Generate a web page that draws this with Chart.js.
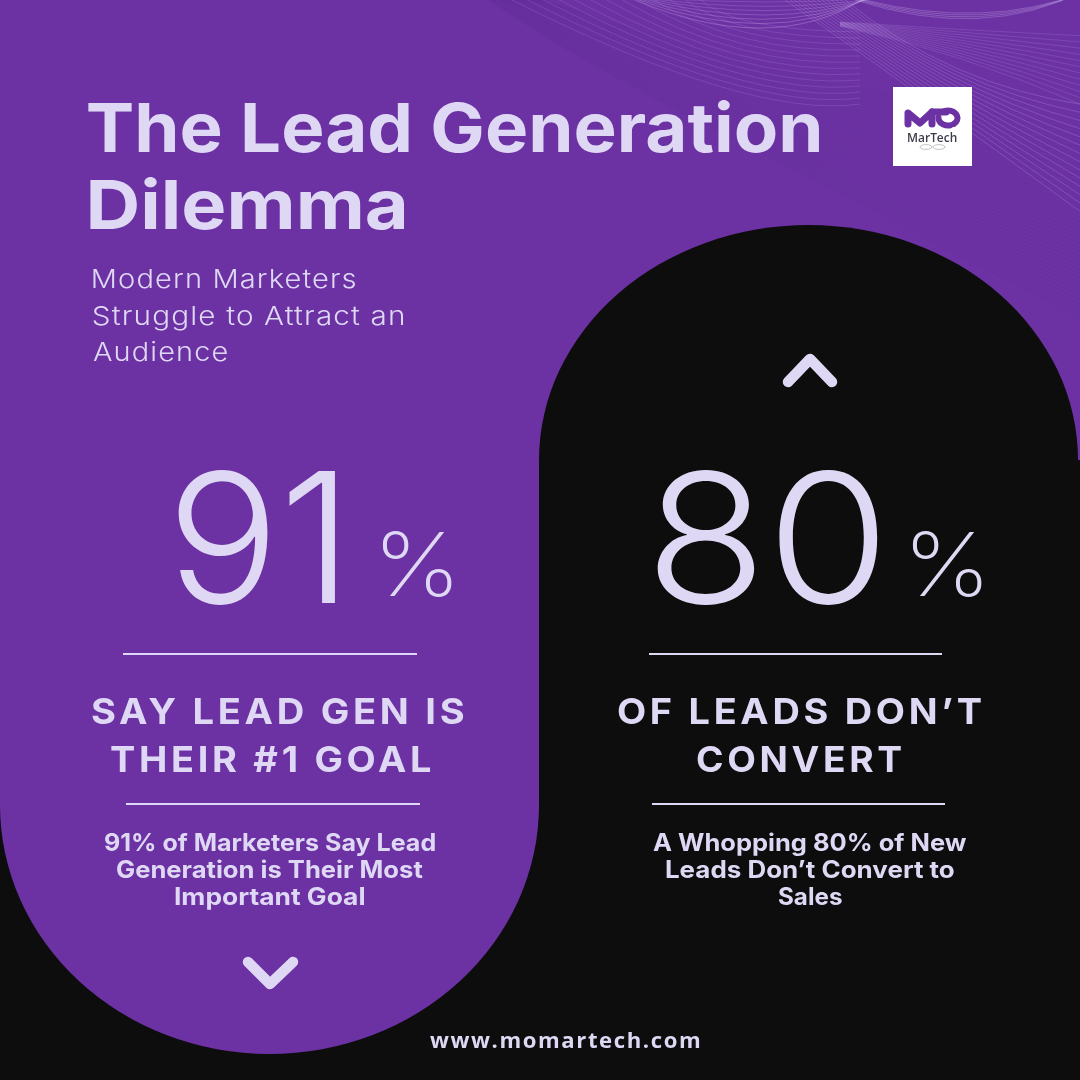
<!DOCTYPE html>
<html><head><meta charset="utf-8">
<style>html,body{margin:0;padding:0;background:#0d0d0d}canvas{display:block}</style>
<script src="https://cdn.jsdelivr.net/npm/chart.js@4"></script>
</head><body>
<canvas id="c" width="1080" height="1080" style="width:1080px;height:1080px"></canvas>
<script>
const categories = ["Say lead gen is their #1 goal", "Of leads don’t convert"];
const percentValues = [91, 80];
const titleLines = ["The Lead Generation", "Dilemma"];
const subtitleLines = ["Modern Marketers", "Struggle to Attract an", "Audience"];
const headingLines = [["SAY LEAD GEN IS", "THEIR #1 GOAL"], ["OF LEADS DON’T", "CONVERT"]];
const bodyLines = [["91% of Marketers Say Lead", "Generation is Their Most", "Important Goal"],
                   ["A Whopping 80% of New", "Leads Don’t Convert to", "Sales"]];
const siteUrl = "www.momartech.com";
const logoText = "MarTech";

const PURPLE = "#6c32a3", BLACK = "#0d0d0d", INK = "#dfd8f5";
const BODY_FONT = "Inter";

// Draws a string so its ink spans x0..x1: fixed tracking, then a slight horizontal stretch.
function fitText(ctx, str, x0, x1, base, font, tracking, color) {
  ctx.save();
  ctx.font = font; ctx.fillStyle = color || INK;
  ctx.textAlign = "left"; ctx.textBaseline = "alphabetic";
  ctx.letterSpacing = (tracking || 0) + "px";
  const m = ctx.measureText(str);
  const inkW = m.actualBoundingBoxLeft + m.actualBoundingBoxRight;
  const sx = (x1 - x0) / inkW;
  ctx.translate(x0, base);
  ctx.scale(sx, 1);
  ctx.fillText(str, m.actualBoundingBoxLeft, 0);
  ctx.restore();
}
function rule(ctx, x0, x1, y) { ctx.fillStyle = INK; ctx.fillRect(x0, y - 1, x1 - x0, 2); }
function chevron(ctx, a, b, c) {
  ctx.save(); ctx.strokeStyle = INK; ctx.lineWidth = 10.5; ctx.lineCap = "round"; ctx.lineJoin = "round";
  ctx.beginPath(); ctx.moveTo(...a); ctx.lineTo(...b); ctx.lineTo(...c); ctx.stroke(); ctx.restore();
}
function waves(ctx) {
  ctx.save();
  ctx.lineWidth = 0.7;
  // dark fine fan sweeping from the top-left
  for (let i = 0; i < 44; i++) {
    const t = i / 43;
    ctx.strokeStyle = "rgba(70,30,120," + (0.10 + 0.08 * t) + ")";
    ctx.beginPath();
    ctx.moveTo(486 + (1 - t) * 50, -2);
    ctx.bezierCurveTo(600, 15 + t * 62, 720, 70 + t * 60, 1085, 130 + t * 190);
    ctx.stroke();
  }
  // pale gently curved lines, top centre
  for (let i = 0; i < 13; i++) {
    const t = i / 12;
    ctx.strokeStyle = "rgba(195,165,235,0.26)";
    ctx.beginPath();
    ctx.moveTo(700 - t * 190, -1);
    ctx.quadraticCurveTo(730 + t * 20, 30 + t * 90, 860, 32 + t * 72);
    ctx.stroke();
  }
  // straight pale fan on the right
  for (let i = 0; i < 14; i++) {
    const t = i / 13;
    ctx.strokeStyle = "rgba(205,180,240,0.32)";
    ctx.beginPath();
    ctx.moveTo(785 + t * 60, 0);
    ctx.quadraticCurveTo(900 + t * 50, 80 + t * 5, 1085, 215 - t * 110);
    ctx.stroke();
  }
  for (let i = 0; i < 12; i++) {
    const t = i / 11;
    ctx.strokeStyle = "rgba(205,180,240,0.24)";
    ctx.beginPath();
    ctx.moveTo(840, 22 + t * 4);
    ctx.quadraticCurveTo(960, 30 + t * 22, 1085, 36 + t * 70);
    ctx.stroke();
  }
  // brighter arcs at the top
  for (let i = 0; i < 7; i++) {
    const t = i / 6;
    ctx.strokeStyle = "rgba(215,190,245," + (0.26 + 0.18 * t) + ")";
    ctx.beginPath();
    ctx.moveTo(650 - t * 20, -2);
    ctx.quadraticCurveTo(770, 6 + t * 52, 880 - t * 15, -2);
    ctx.stroke();
  }
  for (let i = 0; i < 4; i++) {
    const t = i / 3;
    ctx.strokeStyle = "rgba(215,190,245,0.4)";
    ctx.beginPath();
    ctx.moveTo(865 - t * 10, 0);
    ctx.quadraticCurveTo(985, 30 + t * 12, 1085, -8 - t * 2);
    ctx.stroke();
  }
  ctx.restore();
}
function logo(ctx) {
  ctx.fillStyle = "#ffffff"; ctx.fillRect(893, 87, 79, 79);
  ctx.save();
  ctx.strokeStyle = "#6c32a3"; ctx.lineCap = "round"; ctx.lineJoin = "round"; ctx.lineWidth = 7;
  ctx.beginPath(); ctx.moveTo(908, 124); ctx.lineTo(908, 113); ctx.lineTo(920, 123); ctx.lineTo(932, 112); ctx.lineTo(932, 124); ctx.stroke();
  ctx.beginPath(); ctx.moveTo(932, 112); ctx.lineTo(946, 112); ctx.stroke();
  ctx.lineWidth = 6;
  ctx.beginPath(); ctx.ellipse(948, 118, 9.5, 7.5, 0, -1.9, 0.9); ctx.stroke();
  ctx.beginPath(); ctx.ellipse(948, 118, 9.5, 7.5, 0, 1.3, 3.2); ctx.stroke();
  ctx.restore();
  fitText(ctx, logoText, 908, 957, 142, "600 13px 'Open Sans'", 0, "#3d3a4a");
  ctx.save(); ctx.strokeStyle = "rgba(90,90,100,.6)"; ctx.lineWidth = .6;
  ctx.beginPath(); ctx.ellipse(926, 147, 6, 2.4, 0, 0, 7); ctx.moveTo(945, 147); ctx.ellipse(939, 147, 6, 2.4, 0, 0, 7); ctx.stroke(); ctx.restore();
}

const panelPlugin = {
  id: "panels",
  beforeDraw(chart) {
    const ctx = chart.ctx, xs = chart.scales.x;
    const cL = xs.getPixelForValue(0), cR = xs.getPixelForValue(1);
    ctx.save();
    ctx.fillStyle = PURPLE; ctx.fillRect(0, 0, 1080, 1080);
    waves(ctx);
    ctx.fillStyle = BLACK;
    ctx.fillRect(0, 805, 1080, 275);
    ctx.fillRect(539, 460, 541, 620);
    ctx.beginPath(); ctx.ellipse(cR - 1.5, 460, 269.5, 235, 0, Math.PI, 2 * Math.PI); ctx.fill();
    ctx.fillStyle = PURPLE;
    ctx.beginPath(); ctx.ellipse(cL - 0.5, 805, 269.5, 249, 0, 0, Math.PI); ctx.fill();
    ctx.fillRect(0, 780, 539, 25);
    ctx.restore();
  },
  afterDraw(chart) {
    const ctx = chart.ctx, xs = chart.scales.x;
    const cx = [xs.getPixelForValue(0), xs.getPixelForValue(1)];
    fitText(ctx, titleLines[0], 88, 820, 152, "700 68px " + BODY_FONT);
    fitText(ctx, titleLines[1], 90, 405, 229, "700 68px " + BODY_FONT);
    [[93, 355, 288], [93, 404, 325], [93, 227, 361]].forEach((p, i) =>
      fitText(ctx, subtitleLines[i], p[0], p[1], p[2], "300 26px " + BODY_FONT, 1));
    // large numbers come straight from the values
    const numBox = [[-92, 65], [-153, 68]], pctBox = [[113, 182], [103, 172]];
    percentValues.forEach((v, i) => {
      fitText(ctx, String(v), cx[i] + numBox[i][0], cx[i] + numBox[i][1], 603, "300 181px " + BODY_FONT);
      fitText(ctx, "%", cx[i] + pctBox[i][0], cx[i] + pctBox[i][1], 596, "250 88px " + BODY_FONT);
    });
    rule(ctx, 123, 417, 654); rule(ctx, 649, 942, 654);
    rule(ctx, 126, 420, 804); rule(ctx, 652, 945, 804);
    const headBox = [[[92, 464, 724], [111, 431, 772]], [[618, 981, 724], [697, 901, 772]]];
    headingLines.forEach((ls, i) => ls.forEach((s, j) =>
      fitText(ctx, s, headBox[i][j][0], headBox[i][j][1], headBox[i][j][2], "700 36px " + BODY_FONT, 3.5)));
    const bodyBox = [[[105, 435, 851], [117, 423, 878], [175, 365, 905]], [[653, 967, 851], [666, 954, 878], [778, 842, 905]]];
    bodyLines.forEach((ls, i) => ls.forEach((s, j) =>
      fitText(ctx, s, bodyBox[i][j][0], bodyBox[i][j][1], bodyBox[i][j][2], "700 24px " + BODY_FONT)));
    chevron(ctx, [248, 962], [270, 984], [293, 962]);
    chevron(ctx, [788, 382], [810, 359], [832, 382]);
    fitText(ctx, siteUrl, 430, 700, 1048, "700 21px 'Open Sans'", 1.5);
    logo(ctx);
  }
};

new Chart(document.getElementById("c"), {
  type: "bar",
  data: { labels: categories, datasets: [{ data: percentValues, backgroundColor: "transparent", borderWidth: 0 }] },
  options: {
    responsive: false, animation: false, devicePixelRatio: 1,
    layout: { padding: 0 },
    plugins: { legend: { display: false }, tooltip: { enabled: false }, title: { display: false } },
    scales: { x: { display: false }, y: { display: false, min: 0, max: 100 } }
  },
  plugins: [panelPlugin]
});
</script>
</body></html>
